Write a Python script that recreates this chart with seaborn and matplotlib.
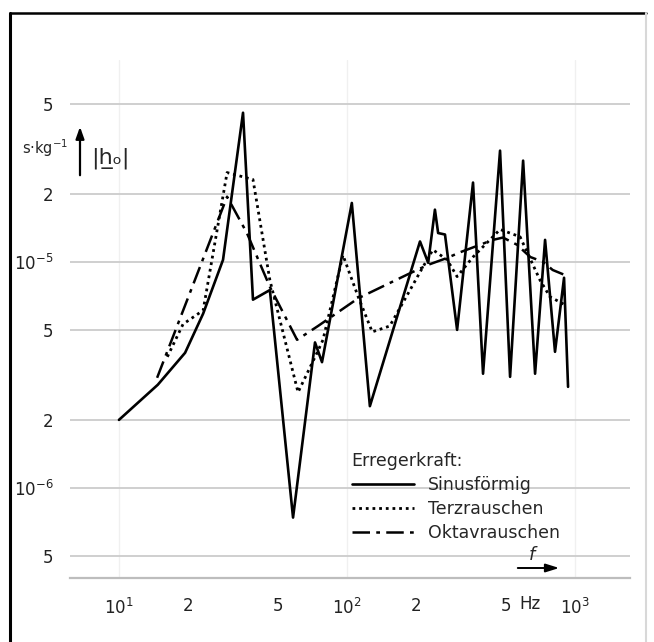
import numpy as np
import pandas as pd
import matplotlib
matplotlib.use("Agg")
import matplotlib.pyplot as plt
import seaborn as sns
from matplotlib.lines import Line2D
from matplotlib.ticker import FixedLocator, FixedFormatter, NullLocator

# Dati (frequenza in Hz, |h_o| in s/kg)
sin_f = [10, 14.8, 19.5, 23.4, 28.6, 35.0, 38.7, 45.9, 58.0, 72.4, 77.7, 105, 126,
         209, 227, 243, 251, 269, 304, 357, 395, 469, 519, 592, 668, 739, 817, 895, 932]
sin_h = [2.0e-6, 2.86e-6, 3.96e-6, 5.9e-6, 1.02e-5, 4.56e-5, 6.8e-6, 7.5e-6, 7.4e-7,
         4.4e-6, 3.6e-6, 1.82e-5, 2.3e-6, 1.23e-5, 9.9e-6, 1.7e-5, 1.34e-5, 1.32e-5,
         5.0e-6, 2.24e-5, 3.2e-6, 3.1e-5, 3.1e-6, 2.8e-5, 3.2e-6, 1.25e-5, 4.0e-6,
         8.5e-6, 2.8e-6]

terz_f = [16.3, 19.1, 23.4, 29.8, 38.7, 45.9, 61, 73.9, 78.5, 96, 112, 129, 154, 189,
          209, 238, 275, 304, 357, 469, 574, 702, 777, 904]
terz_h = [3.8e-6, 5.3e-6, 6.1e-6, 2.48e-5, 2.31e-5, 8.3e-6, 2.65e-6, 3.96e-6, 4.52e-6,
          1.07e-5, 7.0e-6, 4.9e-6, 5.2e-6, 7.5e-6, 9.0e-6, 1.13e-5, 1.02e-5, 8.6e-6,
          1.05e-5, 1.39e-5, 1.29e-5, 8.3e-6, 7.0e-6, 6.45e-6]

okt_f = [14.7, 29.8, 36.4, 45.9, 60.4, 74.6, 112, 189, 227, 275, 312, 437, 483, 556,
         636, 724, 798, 888]
okt_h = [3.07e-6, 1.94e-5, 1.34e-5, 7.75e-6, 4.52e-6, 5.2e-6, 6.9e-6, 8.9e-6, 9.7e-6,
         1.04e-5, 1.1e-5, 1.25e-5, 1.28e-5, 1.19e-5, 1.05e-5, 1.0e-5, 9.2e-6, 8.8e-6]

x_ticks = [10, 20, 50, 100, 200, 500, 1000]
x_labels = ["$10^1$", "2", "5", "$10^2$", "2", "5", "$10^3$"]
y_ticks = [5e-7, 1e-6, 2e-6, 5e-6, 1e-5, 2e-5, 5e-5]
y_labels = ["5", "$10^{-6}$", "2", "5", "$10^{-5}$", "2", "5"]

sns.set_style("white")
plt.rcParams['font.family'] = ['DejaVu Sans']

fig = plt.figure(figsize=(6.54, 6.42), dpi=100)
ax = fig.add_axes([70/654, 1 - 578/642, 560/654, 518/642])

serie = [
    (sin_f, sin_h, "Sinusförmig", dict(linestyle="-", linewidth=1.9)),
    (terz_f, terz_h, "Terzrauschen", dict(linestyle=(0, (1, 1.4)), linewidth=2.0)),
    (okt_f, okt_h, "Oktavrauschen", dict(linestyle=(0, (7, 2.5, 1.5, 2.5)), linewidth=1.8)),
]
for f, h, nome, stile in serie:
    df = pd.DataFrame({"f": f, "h": h})
    sns.lineplot(data=df, x="f", y="h", ax=ax, color="black", sort=False,
                 estimator=None, label=nome, **stile)

ax.set_xscale("log")
ax.set_yscale("log")
ax.set_xlim(6.1, 1742)
ax.set_ylim(4.0e-7, 7.8e-5)

ax.xaxis.set_major_locator(FixedLocator(x_ticks))
ax.xaxis.set_major_formatter(FixedFormatter(x_labels))
ax.yaxis.set_major_locator(FixedLocator(y_ticks))
ax.yaxis.set_major_formatter(FixedFormatter(y_labels))
ax.xaxis.set_minor_locator(NullLocator())
ax.yaxis.set_minor_locator(NullLocator())
ax.tick_params(axis="x", length=0, pad=14, labelsize=12, colors="#222222")
ax.tick_params(axis="y", length=0, pad=12, labelsize=12, colors="#222222")
ax.set_xlabel("")
ax.set_ylabel("")

ax.yaxis.grid(True, color="#cfcfcf", linewidth=1.4)
ax.xaxis.grid(False)
for d in [10, 100, 1000]:
    ax.axvline(d, color="#f0f0f0", linewidth=1.0, zorder=0)
for s in ["top", "left", "right"]:
    ax.spines[s].set_visible(False)
ax.spines["bottom"].set_color("#bdbdbd")
ax.spines["bottom"].set_linewidth(1.6)

leg = ax.legend(loc="upper left", bbox_to_anchor=(336/654, 1 - 436/642),
                bbox_transform=fig.transFigure, frameon=False, title="Erregerkraft:",
                alignment="left", fontsize=12.5, title_fontsize=12.5,
                handlelength=3.6, handletextpad=0.8, labelspacing=0.35)

# Beschriftung der Achsen
fig.text(45/654, 1 - 148/642, "s·kg$^{-1}$", ha="center", va="center", fontsize=10.5)
fig.text(110/654, 1 - 158/642, "|h\u0332\u2092|", ha="center", va="center", fontsize=16)
fig.add_artist(matplotlib.patches.FancyArrowPatch(
    (80/654, 1 - 178/642), (80/654, 1 - 124/642), transform=fig.transFigure,
    arrowstyle="-|>,head_length=7,head_width=2.5", color="black", linewidth=1.6))
fig.text(532/654, 1 - 555/642, "f", ha="center", va="center", fontsize=13, style="italic")
fig.add_artist(matplotlib.patches.FancyArrowPatch(
    (515/654, 1 - 568/642), (562/654, 1 - 568/642), transform=fig.transFigure,
    arrowstyle="-|>,head_length=8,head_width=2.5", color="black", linewidth=1.4))
fig.text(530/654, 1 - 604/642, "Hz", ha="center", va="center", fontsize=12, color="#222222")

# Rahmen
fig.add_artist(Line2D([10/654, 10/654], [0, 1 - 13/642], color="black", linewidth=2.2))
fig.add_artist(Line2D([10/654, 646/654], [1 - 13/642, 1 - 13/642], color="black", linewidth=1.8))
fig.add_artist(Line2D([646/654, 646/654], [0, 1 - 13/642], color="#d8d8d8", linewidth=1.5))

fig.savefig("out.png", dpi=100)
